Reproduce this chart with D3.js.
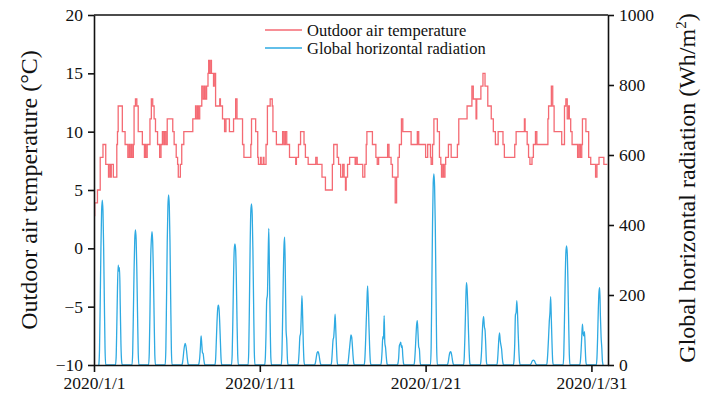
<!DOCTYPE html>
<html><head><meta charset="utf-8">
<script src="https://cdn.jsdelivr.net/npm/d3@7/dist/d3.min.js"></script>
<style>
body{margin:0;background:#fff}
svg text{font-family:"Liberation Serif","Times New Roman",serif !important;fill:#111}
</style>
</head><body>
<svg id="chart" width="715" height="400"></svg>
<script>
// ---- Data ----
// x axis tick labels and positions (days since 2020/1/1 00:00)
const xTickLabels = ["2020/1/1", "2020/1/11", "2020/1/21", "2020/1/31"];
const xTickDays = [0, 10, 20, 30];
const tempTicks = [-10, -5, 0, 5, 10, 15, 20];
const radTicks = [0, 200, 400, 600, 800, 1000];

// Outdoor air temperature (°C): hours since 2020/1/1 00:00 where the value changes, and the new value
const tempHours = [0,1,5,9,13,17,21,22,24,25,28,33,34,35,41,45,49,51,52,54,55,57,58,60,62,64,70,73,74,75,77,81,83,85,87,89,92,95,97,99,101,102,104,106,114,116,119,121,122,125,127,130,143,147,148,150,151,153,156,158,160,161,163,165,166,167,169,170,173,174,176,182,183,186,
189,191,196,202,205,207,215,217,227,228,234,237,238,241,242,245,246,249,251,255,258,259,264,273,275,277,279,283,292,293,296,299,304,306,310,321,323,330,335,345,347,352,354,357,360,362,364,365,367,370,
378,379,381,389,392,394,395,403,408,410,412,425,427,430,432,436,438,440,442,445,447,459,468,470,480,483,487,488,490,492,497,500,502,503,505,506,508,509,513,517,526,528,540,547,549,553,554,560,563,
566,570,575,578,581,585,592,594,609,611,623,624,627,629,631,634,636,639,641,657,658,662,664,666,677,681,683,685,687,688,690,692,700,702,704,706,707,712,716,719,726,728,731,738,743];
const tempValues = [2.8,3.9,5.0,7.8,8.9,7.2,6.1,7.2,6.1,7.2,6.1,8.9,10,12.2,10,8.9,7.8,8.9,7.8,8.9,7.8,8.9,12.2,12.8,12.2,10,8.9,7.8,8.9,7.8,8.9,11.1,12.8,12.2,11.1,10,8.9,7.8,8.9,10,8.9,10,8.9,11.1,10,8.9,7.8,7.2,6.1,7.2,8.9,10,11.1,12.2,11.1,12.2,11.1,12.2,13.9,12.8,13.9,12.8,13.9,15,16.1,15,16.1,15,13.9,15,12.2,12.8,12.2,11.1,
10,11.1,10,11.1,12.8,11.1,8.9,7.8,8.9,11.1,10,7.8,7.2,7.8,7.2,7.8,7.2,8.9,12.2,12.8,12.2,10,8.9,10,8.9,10,8.9,7.8,7.2,7.8,8.9,10,8.9,7.8,7.2,7.8,7.2,6.1,5.0,7.2,8.9,7.8,7.2,6.1,7.2,6.1,5.0,6.1,7.2,7.8,
7.2,7.8,7.2,6.1,7.2,8.9,10,8.9,7.8,7.2,7.8,8.9,7.8,7.2,6.1,3.9,6.1,7.8,8.9,11.1,10,8.9,10,8.9,7.8,8.9,7.8,7.2,8.9,11.1,10,7.8,7.2,6.1,7.2,6.1,7.2,7.8,8.9,7.8,8.9,11.1,12.2,13.9,12.8,11.1,12.8,13.9,15,
13.9,12.2,11.1,10,8.9,10,8.9,7.8,8.9,10,11.1,10,8.9,7.8,7.2,7.8,8.9,10,8.9,11.1,12.2,13.9,12.2,10,8.9,12.2,12.8,11.1,12.2,11.1,10,8.9,7.8,8.9,7.8,8.9,11.1,10,7.8,7.2,6.1,7.2,7.8,7.2,7.2];

// Global horizontal radiation (Wh/m²): hourly values for hours 7..17 of each day (night = 0)
const radHours = [7,8,9,10,11,12,13,14,15,16,17];
const radRows = [
  [0,45,180,330,440,471,440,330,180,45,0],
  [0,20,110,220,285,268,278,170,60,10,0],
  [0,35,150,270,360,386,360,270,150,35,0],
  [0,35,150,300,357,381,350,260,140,30,0],
  [0,45,190,350,455,486,455,350,190,45,0],
  [0,5,20,40,55,62,55,40,20,5,0],
  [0,5,20,50,83,60,35,33,15,3,0],
  [0,15,65,120,160,171,160,120,65,15,0],
  [0,30,130,250,330,346,330,250,130,30,0],
  [0,40,180,340,440,460,430,330,180,40,0],
  [0,20,90,186,200,300,390,260,120,20,0],
  [0,30,130,250,340,365,250,100,71,15,0],
  [0,10,40,81,90,140,198,140,60,10,0],
  [0,3,12,25,35,38,35,25,12,3,0],
  [0,10,40,71,80,110,145,100,50,10,0],
  [0,10,30,50,70,86,80,55,25,5,0],
  [0,15,60,120,176,226,180,110,50,10,0],
  [0,10,40,81,75,141,62,50,25,5,0],
  [0,5,20,55,60,65,50,55,25,5,0],
  [0,10,40,80,115,127,90,52,45,10,0],
  [0,50,220,400,520,546,510,400,220,50,0],
  [0,3,12,25,35,38,35,25,12,3,0],
  [0,25,90,170,235,220,170,100,40,5,0],
  [0,10,40,90,125,138,110,100,60,10,0],
  [0,10,40,75,92,70,57,45,20,5,0],
  [0,15,60,143,150,184,150,90,40,8,0],
  [0,2,5,10,13,14,13,10,5,2,0],
  [0,10,40,80,124,150,195,130,60,10,0],
  [0,30,130,240,320,340,320,240,130,30,0],
  [0,10,40,80,117,90,83,95,50,10,0],
  [0,20,80,160,210,221,140,81,50,10,0]
];

const seriesNames = ["Outdoor air temperature", "Global horizontal radiation"];
const seriesColors = ["#f46a73", "#2eaae2"];

// ---- Chart ----
const W = 715, H = 400;
const m = {left: 94, right: 107, top: 15, bottom: 35};
const svg = d3.select("#chart");
const serif = "'Liberation Serif', 'Times New Roman', serif";

const x = d3.scaleLinear().domain([0, 744]).range([m.left, W - m.right]);
const yT = d3.scaleLinear().domain([-10, 20]).range([H - m.bottom, m.top]);
const yR = d3.scaleLinear().domain([0, 1000]).range([H - m.bottom, m.top]);

// series
const tempData = tempHours.map((h, i) => ({t: h, v: tempValues[i]}));
const radData = [];
radRows.forEach((row, d) => row.forEach((v, j) => radData.push({t: d * 24 + radHours[j], v})));

svg.append("path").datum(radData)
  .attr("fill", "none").attr("stroke", seriesColors[1]).attr("stroke-width", 1.3)
  .attr("stroke-linejoin", "round")
  .attr("d", d3.line().x(d => x(d.t)).y(d => yR(d.v)).curve(d3.curveMonotoneX));

svg.append("path").datum(tempData)
  .attr("fill", "none").attr("stroke", seriesColors[0]).attr("stroke-width", 1.3)
  .attr("d", d3.line().x(d => x(d.t)).y(d => yT(d.v)).curve(d3.curveStepAfter));

// axes
const fs = 17.5;
function styleAxis(g) {
  g.style("font-family", serif);
  g.select(".domain").attr("stroke", "#111").attr("stroke-width", 1.6);
  g.selectAll(".tick line").attr("stroke", "#111").attr("stroke-width", 1.6);
  g.selectAll(".tick text").attr("font-size", fs).style("font-family", serif).attr("fill", "#111");
}

svg.append("g").attr("transform", `translate(0,${H - m.bottom})`)
  .call(d3.axisBottom(x).tickValues(xTickDays.map(d => d * 24))
    .tickFormat((d, i) => xTickLabels[i]).tickSizeInner(7).tickSizeOuter(0).tickPadding(5))
  .call(styleAxis);

svg.append("g").attr("transform", `translate(${m.left},0)`)
  .call(d3.axisLeft(yT).tickValues(tempTicks).tickSizeInner(6).tickSizeOuter(0).tickPadding(5))
  .call(styleAxis);

svg.append("g").attr("transform", `translate(${W - m.right},0)`)
  .call(d3.axisRight(yR).tickValues(radTicks).tickFormat(d3.format("d"))
    .tickSizeInner(6).tickSizeOuter(0).tickPadding(5))
  .call(styleAxis);

// top frame line
svg.append("line").attr("x1", x(0)).attr("x2", x(744)).attr("y1", yT(20)).attr("y2", yT(20))
  .attr("stroke", "#111").attr("stroke-width", 1.6);

// axis titles
svg.append("text")
  .attr("transform", `translate(37,${(m.top + H - m.bottom) / 2}) rotate(-90)`)
  .attr("text-anchor", "middle").attr("font-size", 24).style("font-family", serif)
  .text("Outdoor air temperature (°C)");

const rt = svg.append("text")
  .attr("transform", `translate(${W - 20},${(m.top + H - m.bottom) / 2 - 2}) rotate(-90)`)
  .attr("text-anchor", "middle").attr("font-size", 24).style("font-family", serif);
rt.append("tspan").text("Global horizontal radiation (Wh/m");
rt.append("tspan").attr("font-size", 15).attr("dy", -9).text("2");
rt.append("tspan").attr("dy", 9).text(")");

// legend
const lg = svg.append("g");
seriesNames.forEach((name, i) => {
  const yy = 30 + i * 18;
  lg.append("line").attr("x1", 265).attr("x2", 302).attr("y1", yy).attr("y2", yy)
    .attr("stroke", seriesColors[i]).attr("stroke-width", 1.4);
  lg.append("text").attr("x", 307).attr("y", yy).attr("dy", "0.35em")
    .attr("font-size", 16.5).style("font-family", serif).text(name);
});
</script>
</body></html>
